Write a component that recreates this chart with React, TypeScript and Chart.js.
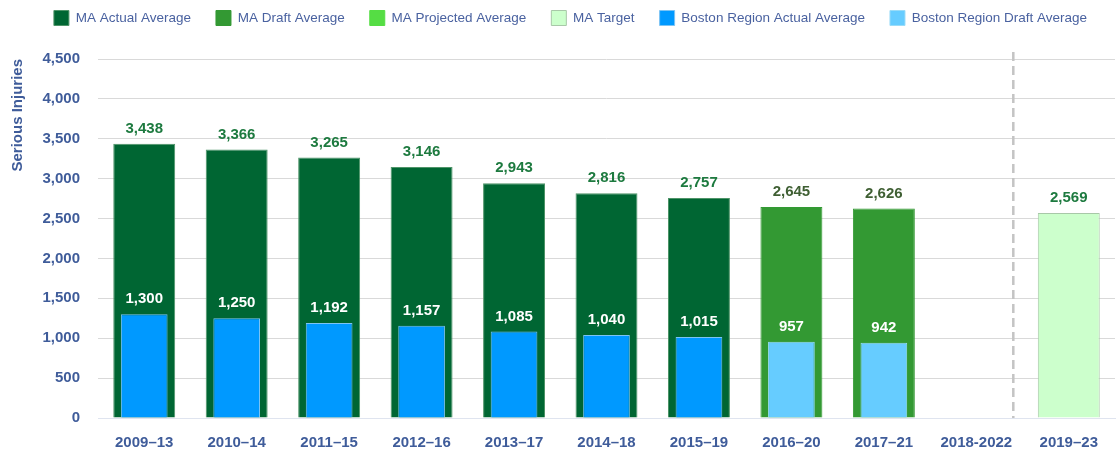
import { useEffect, useRef } from "react";
import { Chart, registerables } from "chart.js";

Chart.register(...registerables);

const categories = [
  "2009–13", "2010–14", "2011–15", "2012–16", "2013–17", "2014–18",
  "2015–19", "2016–20", "2017–21", "2018-2022", "2019–23",
];
const maActual = [3438, 3366, 3265, 3146, 2943, 2816, 2757, null, null, null, null];
const maDraft = [null, null, null, null, null, null, null, 2645, 2626, null, null];
const maProjected = [null, null, null, null, null, null, null, null, null, null, null];
const maTarget = [null, null, null, null, null, null, null, null, null, null, 2569];
const bostonActual = [1300, 1250, 1192, 1157, 1085, 1040, 1015, null, null, null, null];
const bostonDraft = [null, null, null, null, null, null, null, 957, 942, null, null];
const yMin = 0;
const yMax = 4500;
const yStep = 500;
const separatorAt = 9.4;

const FONT = "'Liberation Sans', Arial, sans-serif";
const AXIS_COLOR = "#3f5c9a";
const LEGEND_PAD = 25;
const LEGEND_BOX = 15;

const valueLabels = {
  id: "valueLabels",
  afterDatasetsDraw(chart: any) {
    const ctx = chart.ctx;
    chart.data.datasets.forEach((ds: any, i: number) => {
      const meta = chart.getDatasetMeta(i);
      if (meta.hidden) return;
      meta.data.forEach((el: any, j: number) => {
        const v = ds.data[j];
        if (v == null) return;
        ctx.save();
        ctx.font = `bold 15px ${FONT}`;
        ctx.fillStyle = ds.labelColor;
        ctx.textAlign = "center";
        ctx.textBaseline = "middle";
        ctx.fillText(Number(v).toLocaleString("en-US"), el.x, el.y - 15);
        ctx.restore();
      });
    });
  },
};

const separator = {
  id: "separator",
  beforeDatasetsDraw(chart: any) {
    const x = chart.scales.x.getPixelForValue(separatorAt);
    const { top, bottom } = chart.chartArea;
    const ctx = chart.ctx;
    ctx.save();
    ctx.strokeStyle = "#c4c4c4";
    ctx.lineWidth = 2.5;
    ctx.setLineDash([9, 5]);
    ctx.beginPath();
    ctx.moveTo(x, top - 7);
    ctx.lineTo(x, bottom);
    ctx.stroke();
    ctx.restore();
  },
};

const legendShift = {
  id: "legendShift",
  afterLayout(chart: any) {
    const lg = chart.legend;
    if (!lg) return;
    lg.left += 13;
    lg.right += 13;
    const center = lg.top + LEGEND_PAD + LEGEND_BOX / 2;
    const dy = 18 - center;
    lg.top += dy;
    lg.bottom += dy;
  },
};

export default function App() {
  const ref = useRef<HTMLCanvasElement | null>(null);
  useEffect(() => {
    if (!ref.current) return;
    const maBar = { grouped: false, barPercentage: 0.67, categoryPercentage: 1, borderWidth: 1, order: 1 };
    const bBar = { grouped: false, barPercentage: 0.505, categoryPercentage: 1, borderWidth: 1, order: 0 };
    const chart = new Chart(ref.current, {
      type: "bar",
      data: {
        labels: categories,
        datasets: [
          { ...maBar, label: "MA Actual Average", data: maActual, backgroundColor: "#006633", borderColor: "#4e9468", labelColor: "#1d7a3f" } as any,
          { ...maBar, label: "MA Draft Average", data: maDraft, backgroundColor: "#339933", borderColor: "#339933", labelColor: "#3f5f33" } as any,
          { ...maBar, label: "MA Projected Average", data: maProjected, backgroundColor: "#55dd44", borderColor: "#55dd44", labelColor: "#1d7a3f" } as any,
          { ...maBar, label: "MA Target", data: maTarget, backgroundColor: "#ccffcc", borderColor: "#a8c8a8", labelColor: "#1d7a3f" } as any,
          { ...bBar, label: "Boston Region Actual Average", data: bostonActual, backgroundColor: "#0099ff", borderColor: "#7cc4f4", labelColor: "#ffffff" } as any,
          { ...bBar, label: "Boston Region Draft Average", data: bostonDraft, backgroundColor: "#66ccff", borderColor: "#9adcf8", labelColor: "#ffffff" } as any,
        ],
      },
      options: {
        animation: false,
        responsive: true,
        maintainAspectRatio: false,
        layout: { padding: { top: 9, right: 3, left: 0, bottom: 0 } },
        plugins: {
          tooltip: { enabled: false },
          legend: {
            position: "top",
            labels: {
              boxWidth: LEGEND_BOX,
              boxHeight: LEGEND_BOX,
              padding: LEGEND_PAD,
              color: "#4a62a0",
              font: { family: FONT, size: 13.5 },
              sort: (a: any, b: any) => a.datasetIndex - b.datasetIndex,
            },
          },
        },
        scales: {
          x: {
            grid: { display: false },
            border: { color: "#dfe4ef", width: 1 },
            ticks: { color: AXIS_COLOR, padding: 8, font: { family: FONT, size: 15, weight: "bold" } },
            afterFit: (s: any) => { s.height = 37; },
          },
          y: {
            min: yMin,
            max: yMax,
            grid: { color: "#d9d9d9", drawTicks: false },
            border: { display: false },
            ticks: {
              stepSize: yStep,
              color: AXIS_COLOR,
              padding: 18,
              font: { family: FONT, size: 15, weight: "bold" },
              callback: (v: any) => Number(v).toLocaleString("en-US"),
            },
            title: {
              display: true,
              text: "Serious Injuries",
              align: "end",
              color: AXIS_COLOR,
              padding: { top: 9, bottom: 0 },
              font: { family: FONT, size: 15, weight: "bold" },
            },
            afterFit: (s: any) => { s.width = 98; },
          },
        },
      } as any,
      plugins: [valueLabels, separator, legendShift],
    });
    return () => chart.destroy();
  }, []);
  return (
    <div style={{ position: "absolute", left: 0, top: 0, width: 1118, height: 455 }}>
      <canvas ref={ref} />
    </div>
  );
}
